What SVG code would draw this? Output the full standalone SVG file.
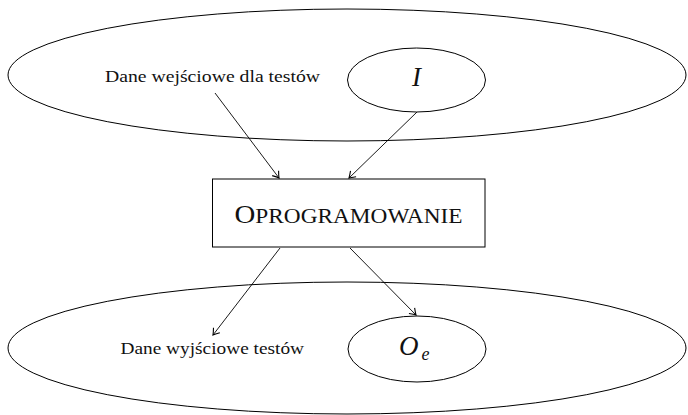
<svg xmlns="http://www.w3.org/2000/svg" width="688" height="415" viewBox="0 0 688 415">
  <defs>
    <style>
      .shape { fill: none; stroke: #000; stroke-width: 1; }
      .box { fill: #fff; stroke: #000; stroke-width: 1; }
      .edge { fill: none; stroke: #000; stroke-width: 0.9; marker-end: url(#tip); }
      .lbl { font-family: "Liberation Serif", "DejaVu Serif", serif; font-size: 16.5px; fill: #111; }
      .math { font-family: "Liberation Serif", "DejaVu Serif", serif; font-style: italic; fill: #111; }
      .sc { font-family: "Liberation Serif", "DejaVu Serif", serif; fill: #111; }
    </style>
    <!-- curved open arrow tip -->
    <marker id="tip" viewBox="-7 -5 8 10" refX="0" refY="0" markerWidth="8" markerHeight="10" markerUnits="userSpaceOnUse" orient="auto">
      <path d="M-6,-4 Q-1.8,-0.9 0,0 Q-1.8,0.9 -6,4" fill="none" stroke="#000" stroke-width="1.1"/>
    </marker>
  </defs>

  <rect width="688" height="415" fill="#fff"/>

  <!-- input domain -->
  <g id="input-domain">
    <ellipse class="shape" cx="347" cy="75" rx="339" ry="66"/>
    <text class="lbl" x="105" y="82" textLength="215" lengthAdjust="spacingAndGlyphs">Dane wejściowe dla testów</text>
  </g>
  <g id="input-I">
    <ellipse class="shape" cx="416.5" cy="80" rx="69" ry="32"/>
    <text class="math" x="416.5" y="86" font-size="27" text-anchor="middle">I</text>
  </g>

  <!-- output domain -->
  <g id="output-domain">
    <ellipse class="shape" cx="347" cy="348" rx="339" ry="66"/>
    <text class="lbl" x="120.5" y="354" textLength="183.5" lengthAdjust="spacingAndGlyphs">Dane wyjściowe testów</text>
  </g>
  <g id="output-Oe">
    <ellipse class="shape" cx="417" cy="349" rx="69" ry="33"/>
    <text class="math" x="399" y="355" font-size="27">O</text>
    <text class="math" x="421.5" y="360" font-size="18">e</text>
  </g>

  <!-- software under test -->
  <g id="software">
    <rect class="box" x="212.5" y="179" width="272.5" height="68"/>
    <text class="sc" x="234.5" y="222.5" textLength="228" lengthAdjust="spacingAndGlyphs"><tspan font-size="26">O</tspan><tspan font-size="21">PROGRAMOWANIE</tspan></text>
  </g>

  <!-- connectors -->
  <g id="connectors">
    <line class="edge" x1="215" y1="93" x2="279" y2="178"/>
    <line class="edge" x1="417" y1="112" x2="349" y2="178"/>
    <line class="edge" x1="280" y1="248" x2="213" y2="335"/>
    <line class="edge" x1="350" y1="248" x2="416" y2="315"/>
  </g>
</svg>
